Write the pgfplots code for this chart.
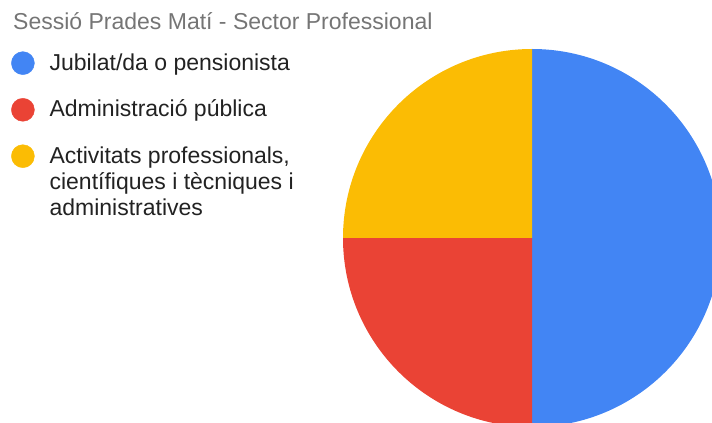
\documentclass[border=0pt]{standalone}
\usepackage{pgfplots}
\pgfplotsset{compat=1.18}
\usepackage{pgfplotstable}
\usepackage{fontspec}
\setmainfont{Liberation Sans}

\definecolor{pblue}{HTML}{4285F4}
\definecolor{pred}{HTML}{EA4335}
\definecolor{pyellow}{HTML}{FBBC04}
\definecolor{txt}{HTML}{222222}
\definecolor{ttl}{HTML}{757575}

% shares of the pie (2 of 4, 1 of 4, 1 of 4)
\pgfplotstableread{
idx value
0 2
1 1
2 1
}\piedata

\begin{document}
\begin{tikzpicture}
  \clip (0,0) rectangle (712bp,423bp);
  \begin{axis}[
    scale only axis,
    width=378bp, height=378bp,
    at={(532bp,185bp)}, anchor=center,
    xmin=-1, xmax=1, ymin=-1, ymax=1,
    axis lines=none, ticks=none,
    clip=false,
    title={Sessió Prades Matí - Sector Professional},
    title style={at={(-0.873,1.037)}, anchor=base west,
      text=ttl, font=\fontsize{23bp}{26bp}\selectfont, inner sep=0pt},
    legend image code/.code={\fill[#1] (11.5bp,7bp) circle (11.5bp);},
    legend style={at={(-0.8783,0.994)}, anchor=north west,
      draw=none, fill=none, inner sep=0pt,
      font=\fontsize{23bp}{26bp}\selectfont, text=txt,
      column sep=13bp, row sep=23bp,
      cells={anchor=base west, inner sep=0pt}},
  ]
    \addlegendimage{pblue}
    \addlegendentry{Jubilat/da o pensionista}
    \addlegendimage{pred}
    \addlegendentry{Administració pública}
    \addlegendimage{pyellow}
    \addlegendentry{\vtop{\hbox{Activitats professionals,}\hbox{científiques i tècniques i}\hbox{administratives}}}

    \def\start{90}
    \pgfplotsforeachungrouped \i/\col in {0/pblue,1/pred,2/pyellow} {
      \pgfplotstablegetelem{\i}{value}\of\piedata
      \pgfmathsetmacro\sweep{360*\pgfplotsretval/4}
      \pgfmathsetmacro\stop{\start-\sweep}
      \pgfmathsetmacro\sx{cos(\start)}
      \pgfmathsetmacro\sy{sin(\start)}
      \edef\cmd{\noexpand\fill[\col] (axis cs:0,0) -- (axis cs:\sx,\sy)
        arc[start angle=\start, end angle=\stop, radius=189bp] -- cycle;}
      \cmd
      \global\let\start\stop
    }
  \end{axis}
\end{tikzpicture}
\end{document}
